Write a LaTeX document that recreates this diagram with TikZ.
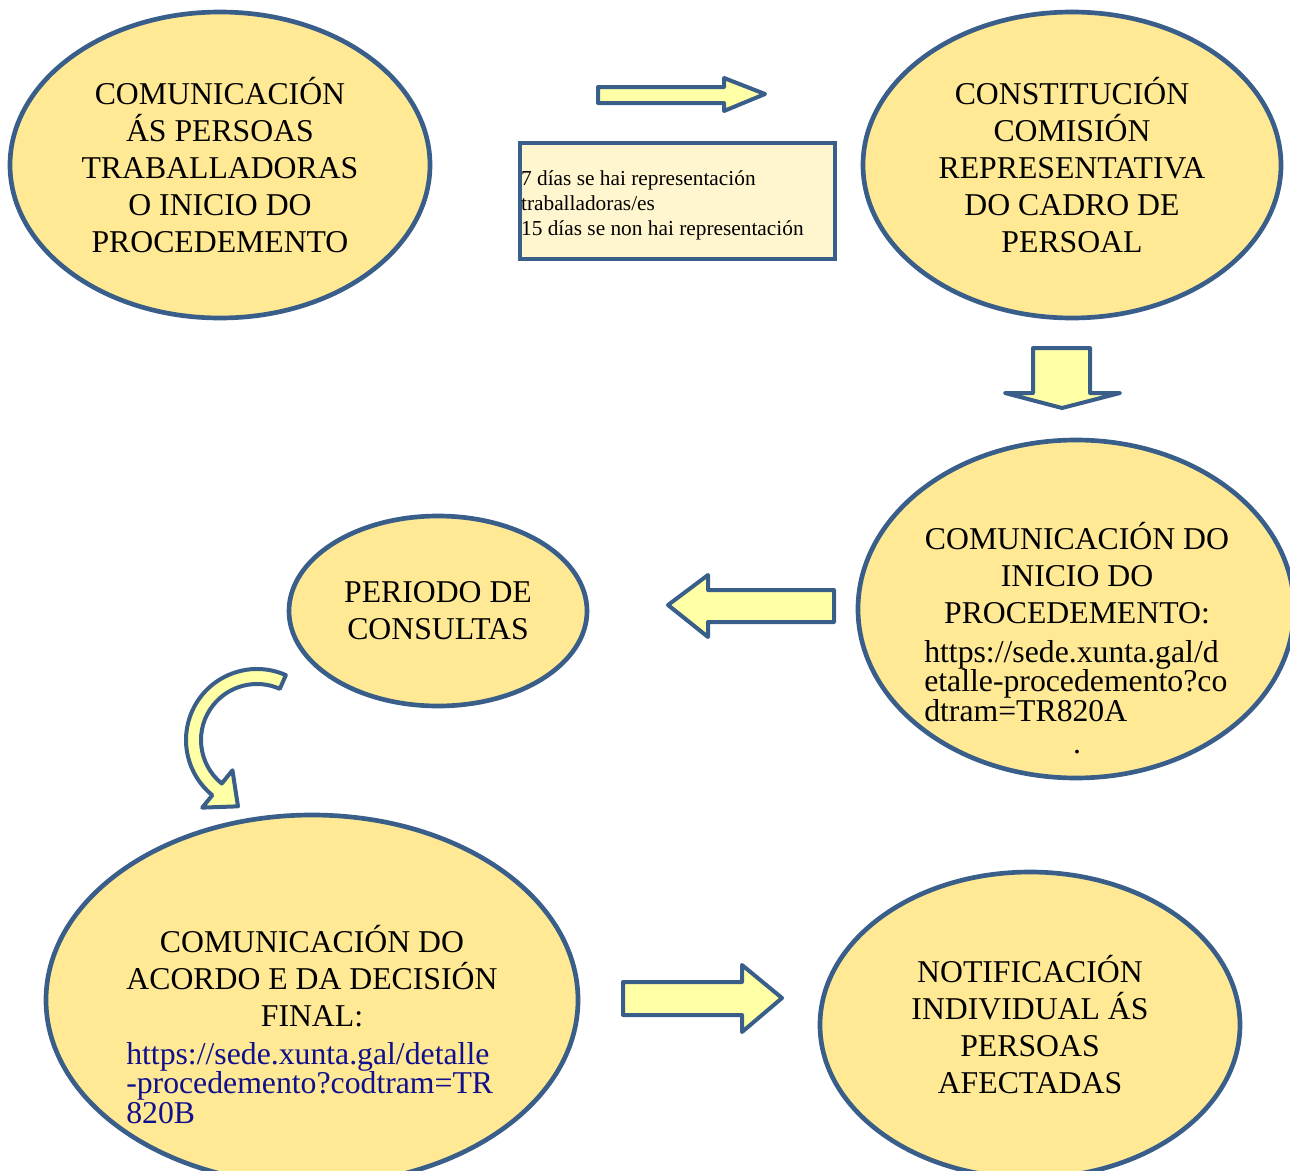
\documentclass[tikz,border=0pt]{standalone}
\usepackage{fontspec}
\setmainfont{Liberation Serif}
\usetikzlibrary{shapes.geometric,calc}
\definecolor{edgeblue}{RGB}{57,94,138}
\definecolor{bubblefill}{RGB}{255,233,148}
\definecolor{arrowfill}{RGB}{255,255,166}
\definecolor{boxfill}{RGB}{255,245,206}
\definecolor{linkblue}{RGB}{16,16,140}

\begin{document}
\begin{tikzpicture}[x=0.75pt,y=-0.75pt,
	bubble/.style={ellipse,draw=edgeblue,fill=bubblefill,line width=3.5pt,inner sep=0pt,align=center,font=\fontsize{23.8}{27.75}\selectfont},
	bubbletext/.style={align=center,inner sep=0pt,font=\fontsize{23.8}{27.75}\selectfont},
	urltext/.style={align=left,inner sep=0pt,font=\fontsize{23.8}{22}\selectfont},
	blockarrow/.style={draw=edgeblue,fill=arrowfill,line width=3pt,line join=round}]
	\useasboundingbox (0,0) rectangle (1290,1171);
	\clip (0,0) rectangle (1290,1171);
	\node[bubble,minimum width=315pt,minimum height=229.5pt] (aviso) at (220,165) {COMUNICACIÓN\\ÁS PERSOAS\\TRABALLADORAS\\O INICIO DO\\PROCEDEMENTO};
	\node[bubble,minimum width=313.5pt,minimum height=229.5pt] (comision) at (1072,165) {CONSTITUCIÓN\\COMISIÓN\\REPRESENTATIVA\\DO CADRO DE\\PERSOAL};
	\node[draw=edgeblue,fill=boxfill,line width=3pt,minimum width=236pt,minimum height=87pt] (prazo) at (677.5,201) {};
	\node[anchor=west,inner sep=0pt,align=left,font=\fontsize{16}{18.75}\selectfont] (prazotxt) at ([xshift=2,yshift=-3]prazo.west) {7 días se hai representación\\traballadoras/es\\15 días se non hai representación};
	\node[bubble,minimum width=327pt,minimum height=253.5pt] (inicio) at (1076,609) {};
	\node[bubbletext] (iniciotit) at (1077,573) {COMUNICACIÓN DO\\INICIO DO\\PROCEDEMENTO:};
	\node[urltext,anchor=west] (iniciourl) at (924,681) {https://sede.xunta.gal/d\\etalle-procedemento?co\\dtram=TR820A};
	\node[bubbletext] (iniciopunto) at (1077,752) {.};
	\node[bubble,minimum width=223.5pt,minimum height=142.5pt] (consultas) at (438,611) {PERIODO DE\\CONSULTAS};
	\node[bubble,minimum width=399pt,minimum height=277.5pt] (acordo) at (312,1000) {};
	\node[bubbletext] (acordotit) at (312,976) {COMUNICACIÓN DO\\ACORDO E DA DECISIÓN\\FINAL:};
	\node[urltext,anchor=west,text=linkblue] (acordourl) at (126,1083) {https://sede.xunta.gal/detalle\\-procedemento?codtram=TR\\820B};
	\node[bubble,minimum width=315pt,minimum height=229.5pt] (notif) at (1030,1025) {NOTIFICACIÓN\\INDIVIDUAL ÁS\\PERSOAS\\AFECTADAS};
	\draw[blockarrow] (598,87) -- (724,87) -- (724,78) -- (765,94) -- (724,111) -- (724,103) -- (598,103) -- cycle;
	\draw[blockarrow] (1033,348) -- (1090,348) -- (1090,393) -- (1120,393) -- (1062,408) -- (1005,393) -- (1033,393) -- cycle;
	\draw[blockarrow] (834,590) -- (708,590) -- (708,575) -- (668,605) -- (708,637) -- (708,622) -- (834,622) -- cycle;
	\draw[blockarrow] (623,982) -- (742,982) -- (742,965) -- (782,998) -- (742,1032) -- (742,1015) -- (623,1015) -- cycle;
	\coordinate (giro) at (257,740);
	\draw[blockarrow] ($(giro)+(-66:71)$) arc[start angle=66,end angle=231,radius=53.25pt] -- ($(giro)+(-231:87)$) -- ($(giro)+(-254:69)$) -- ($(giro)+(-231:39)$) -- ($(giro)+(-231:56)$) arc[start angle=231,end angle=66,radius=42pt] -- cycle;
\end{tikzpicture}
\end{document}
